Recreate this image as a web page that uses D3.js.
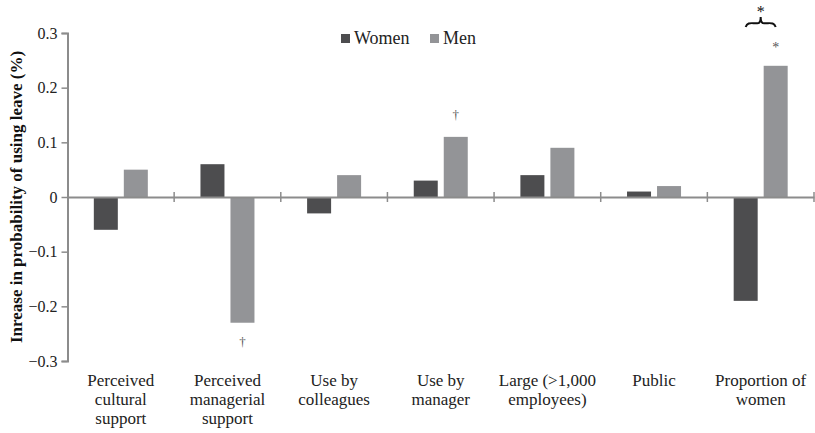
<!DOCTYPE html>
<html><head><meta charset="utf-8">
<script src="https://cdn.jsdelivr.net/npm/d3@7"></script>
<style>body{margin:0;background:#fff}svg{display:block}svg text{font-family:"Liberation Serif","Times New Roman",serif !important}</style>
</head><body><div id="chart"></div>
<script>
const categories = [["Perceived","cultural","support"],["Perceived","managerial","support"],["Use by","colleagues"],["Use by","manager"],["Large (>1,000","employees)"],["Public"],["Proportion of","women"]];
const seriesNames = ["Women","Men"];
const women = [-0.06, 0.06, -0.03, 0.03, 0.04, 0.01, -0.19];
const men = [0.05, -0.23, 0.04, 0.11, 0.09, 0.02, 0.24];
const yTicks = [-0.3,-0.2,-0.1,0,0.1,0.2,0.3];
// annotations: [categoryIndex, seriesIndex, symbol]
const marks = [[1,1,"†"],[3,1,"†"],[6,1,"*"]];

const W=815,H=433;
const FONT="'Liberation Serif','Times New Roman',serif";
const colors=["#4d4d4f","#939497"];
const svg=d3.select("#chart").append("svg").attr("width",W).attr("height",H).attr("font-family",FONT);
const x=d3.scaleBand().domain(d3.range(categories.length)).range([67.5,814]).paddingInner(0).paddingOuter(0);
const y=d3.scaleLinear().domain([-0.3,0.3]).range([361,33]);
const barW=24, gap=6;
const xs=d3.scaleBand().domain([0,1]).range([0,barW*2+gap]).paddingInner(gap/(barW+gap));
const data=[women,men];

// y axis
const yAxis=svg.append("g").attr("transform","translate(67.5,0)")
  .call(d3.axisLeft(y).tickValues(yTicks).tickSize(6).tickFormat(d=>d===0?"0":d3.format(".1f")(d).replace("-","\u2212")));
yAxis.attr("font-family",FONT);
yAxis.select(".domain").attr("stroke","#8c8c8c").attr("stroke-width",2);
yAxis.selectAll(".tick line").attr("stroke","#8c8c8c").attr("stroke-width",1.5);
yAxis.selectAll(".tick text").attr("font-size",16).attr("fill","#222").attr("x",-10).style("font-family",FONT);

// bars
categories.forEach((c,i)=>{
  const cx=x(i)+x.bandwidth()/2-(barW*2+gap)/2;
  data.forEach((s,j)=>{
    const v=s[i];
    svg.append("rect").attr("x",cx+xs(j)).attr("width",xs.bandwidth())
      .attr("y",y(Math.max(0,v))).attr("height",Math.abs(y(v)-y(0)))
      .attr("fill",colors[j]);
  });
});

// x axis line at zero
const xAxis=svg.append("g").attr("transform",`translate(0,${y(0)})`)
  .call(d3.axisBottom(x).tickSize(0).tickFormat(""));
xAxis.select(".domain").attr("stroke","#8c8c8c").attr("stroke-width",2);
// boundary ticks
const bounds=d3.range(1,categories.length+1).map(i=>x.range()[0]+i*x.step());
svg.selectAll(".bt").data(bounds).enter().append("line")
  .attr("x1",d=>d).attr("x2",d=>d).attr("y1",y(0)-5).attr("y2",y(0)+5)
  .attr("stroke","#8c8c8c").attr("stroke-width",1.5);

// category labels
categories.forEach((c,i)=>{
  const t=svg.append("text").attr("text-anchor","middle").attr("font-size",17).attr("fill","#222")
    .style("font-family",FONT).attr("x",x(i)+x.bandwidth()/2).attr("y",386);
  c.forEach((l,k)=>t.append("tspan").attr("x",x(i)+x.bandwidth()/2).attr("dy",k===0?0:19).text(l));
});

// y title
svg.append("text").attr("transform","translate(22,197) rotate(-90)").attr("text-anchor","middle")
  .style("font-family",FONT).attr("font-size",17).attr("font-weight","bold").attr("fill","#111").text("Inrease in probability of using leave (%)");

// legend
const lg=svg.append("g");
const legX=[341,430];
seriesNames.forEach((n,j)=>{
  lg.append("rect").attr("x",legX[j]).attr("y",34).attr("width",9).attr("height",9).attr("fill",colors[j]);
  lg.append("text").attr("x",legX[j]+13).attr("y",44).attr("font-size",18).attr("fill","#222").style("font-family",FONT).text(n);
});

// significance marks
marks.forEach(([i,j,s])=>{
  const cx=x(i)+x.bandwidth()/2-(barW*2+gap)/2+xs(j)+xs.bandwidth()/2;
  const v=data[j][i];
  const yy=v>=0?y(v)-(s==="*"?14:18):y(v)+23;
  svg.append("text").attr("x",cx).attr("y",yy).attr("text-anchor","middle").attr("font-size",s==="*"?14:13).attr("fill","#555").style("font-family",FONT).text(s);
});

// brace over proportion of women
{
  const i=6;
  const base=x(i)+x.bandwidth()/2-(barW*2+gap)/2;
  const x1=base+xs(0)+xs.bandwidth()/2, x2=base+xs(1)+xs.bandwidth()/2, xm=(x1+x2)/2;
  const yb=27, yt=17;
  const p=`M${x1},${yb} C${x1+2},${yb-6} ${xm-8},${yb-3} ${xm-2},${yb-4} Q${xm},${yb-5} ${xm},${yt} Q${xm},${yb-5} ${xm+2},${yb-4} C${xm+8},${yb-3} ${x2-2},${yb-6} ${x2},${yb}`;
  svg.append("path").attr("d",p).attr("fill","none").attr("stroke","#111").attr("stroke-width",2);
  svg.append("text").attr("x",xm).attr("y",17).attr("text-anchor","middle").attr("font-size",16).attr("fill","#111").style("font-family",FONT).text("*");
}
</script></body></html>
